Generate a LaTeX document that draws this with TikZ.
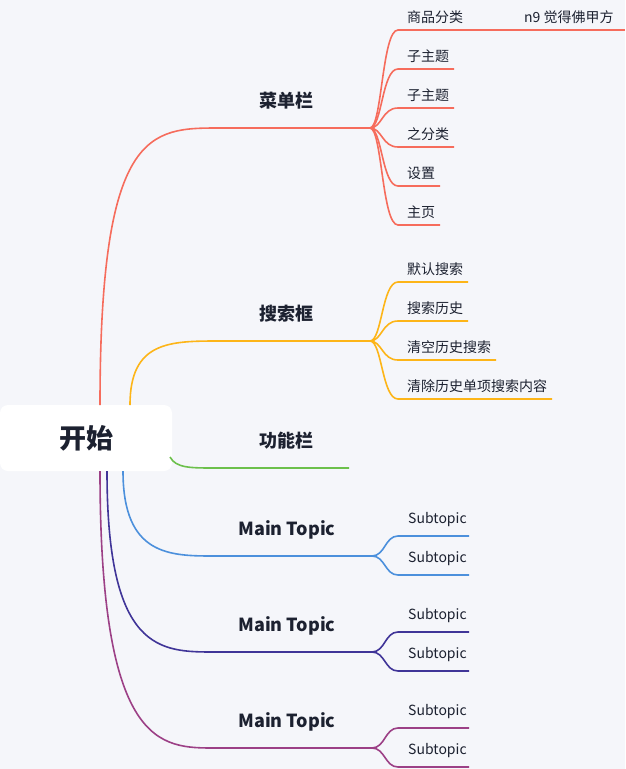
\documentclass[tikz,border=0pt]{standalone}
\usepackage{fontspec}
\setmainfont{Noto Sans CJK SC}
\usepackage{xcolor}
\definecolor{fondo}{RGB}{245, 246, 250}
\definecolor{texto}{RGB}{28, 33, 48}
\definecolor{rojo}{RGB}{246, 108, 92}
\definecolor{naranja}{RGB}{253, 181, 24}
\definecolor{verde}{RGB}{108, 192, 75}
\definecolor{azul}{RGB}{76, 144, 220}
\definecolor{indigo}{RGB}{64, 53, 152}
\definecolor{morado}{RGB}{156, 64, 134}
\usepackage{tikz}
\usetikzlibrary{positioning}
\tikzset{
  rama/.style={line width=1.6pt},
  hoja/.style={anchor=west, inner sep=0pt, text=texto, font=\fontsize{14}{16}\selectfont},
  tema/.style={inner sep=0pt, text=texto, font=\fontsize{18}{20}\selectfont\bfseries},
}
\begin{document}
\begin{tikzpicture}[x=1pt,y=1pt]
    % Fondo y márgenes
    \fill[fondo] (0,0) rectangle (625,-769);
    \useasboundingbox (0,0) rectangle (625,-769);
    % Nodo raíz
    \node[fill=white, rounded corners=8pt, minimum width=172pt, minimum height=66pt, inner sep=0pt,
          font=\fontsize{27}{30}\selectfont\bfseries, text=texto] (raiz) at (86,-438) {开始};
    % Temas principales
    \node[tema] (menu) at (286,-101) {菜单栏};
    \node[tema] (busca) at (286,-314) {搜索框};
    \node[tema] (func) at (286,-441) {功能栏};
    \node[tema] (mt1) at (287,-530) {Main Topic};
    \node[tema] (mt2) at (287,-626) {Main Topic};
    \node[tema] (mt3) at (287,-722) {Main Topic};
    \coordinate (hmenu) at (370,-128);
    \coordinate (hbusca) at (370,-341);
    \coordinate (hmt1) at (372,-556);
    \coordinate (hmt2) at (372,-652);
    \coordinate (hmt3) at (372,-748);
    % Ramas desde la raíz
    \draw[rama, rojo] (100,-405) .. controls (100,-128) and (150,-128) .. (220,-128) -- (hmenu);
    \draw[rama, naranja] (130,-405) .. controls (130,-341) and (170,-341) .. (220,-341) -- (hbusca);
    \draw[rama, verde] (170,-457) .. controls (176,-468) and (190,-468) .. (215,-468) -- (349,-468);
    \draw[rama, azul] (123,-471) .. controls (123,-556) and (170,-556) .. (215,-556) -- (hmt1);
    \draw[rama, indigo] (107,-471) .. controls (107,-652) and (160,-652) .. (215,-652) -- (hmt2);
    \draw[rama, morado] (100,-471) .. controls (100,-748) and (160,-748) .. (215,-748) -- (hmt3);
    % Hojas del menú
    \foreach \y/\fin/\txt [count=\i] in {30/468/商品分类, 69/454/子主题, 108/454/子主题, 147/454/之分类, 186/440/设置, 225/440/主页} {
        \node[hoja] (m\i) at (407,-\y+13) {\txt};
        \draw[rama, rojo] (hmenu) .. controls (382,-128) and (382,-\y) .. (398,-\y) -- (\fin,-\y);
    }
    \node[hoja] (n9) at (524,-17) {n9 觉得佛甲方};
    \draw[rama, rojo] (468,-30) -- (625,-30);
    % Hojas del buscador
    \foreach \y/\fin/\txt [count=\i] in {282/468/默认搜索, 321/468/搜索历史, 360/496/清空历史搜索, 399/552/清除历史单项搜索内容} {
        \node[hoja] (b\i) at (407,-\y+13) {\txt};
        \draw[rama, naranja] (hbusca) .. controls (382,-341) and (382,-\y) .. (398,-\y) -- (\fin,-\y);
    }
    % Subtemas
    \foreach \h/\y/\col in {hmt1/556/azul, hmt2/652/indigo, hmt3/748/morado} {
        \node[hoja] at (408,-\y+36) {Subtopic};
        \node[hoja] at (408,-\y-3) {Subtopic};
        \draw[rama, \col] (\h) .. controls (385,-\y) and (385,-\y+20) .. (398,-\y+20) -- (469,-\y+20);
        \draw[rama, \col] (\h) .. controls (385,-\y) and (385,-\y-19) .. (398,-\y-19) -- (469,-\y-19);
    }
\end{tikzpicture}
\end{document}
